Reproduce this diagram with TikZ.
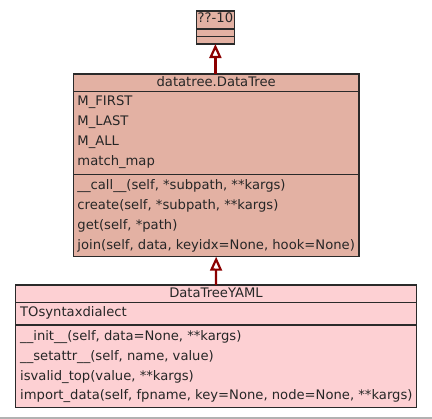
\documentclass[tikz,border=0pt]{standalone}
\usepackage{fontspec}
\setmainfont{DejaVu Sans}
\usetikzlibrary{arrows.meta}
\definecolor{boxA}{HTML}{E3B1A3}
\definecolor{boxB}{HTML}{FDD0D3}
\definecolor{edge}{HTML}{8B0000}
\definecolor{frame}{HTML}{2A2A2A}
\tikzset{
  umlbox/.style={draw=frame, line width=1.2bp, inner sep=0pt, outer sep=0pt},
  txt/.style={anchor=base west, inner sep=0pt, font=\fontsize{13.2}{15}\selectfont, text=black!85},
  ttl/.style={anchor=base, inner sep=0pt, font=\fontsize{13.2}{15}\selectfont, text=black!85},
  divider/.style={draw=frame, line width=1.2bp},
  inherit/.style={draw=edge, line width=2.2bp, -{Triangle[open, width=12bp, length=14bp, line width=2.2bp]}}
}
\begin{document}
\begin{tikzpicture}[x=1bp, y=-1bp]
\useasboundingbox (0,0) rectangle (432,419);
\fill[black!30] (0,417) rectangle (432,419);
% ??-10
\node[umlbox, fill=boxA, minimum width=38.3bp, minimum height=33bp] (t) at (215.4,27.5) {};
\node[ttl] (tt) at (215.4,22.7) {??-10};
\draw[divider] (196.25,29) -- (234.55,29);
\draw[divider] (196.25,36.7) -- (234.55,36.7);
% DataTree
\node[umlbox, fill=boxA, minimum width=285.7bp, minimum height=182.7bp] (dt) at (216.15,165.35) {};
\node[ttl] (dtt) at (216.15,86) {datatree.DataTree};
\draw[divider] (73.3,91.7) -- (359,91.7);
\draw[divider] (73.3,174.3) -- (359,174.3);
\node[txt] (a1) at (77.3,105.7) {M\_FIRST};
\node[txt] (a2) at (77.3,125.7) {M\_LAST};
\node[txt] (a3) at (77.3,145.7) {M\_ALL};
\node[txt] (a4) at (77.3,165.7) {match\_map};
\node[txt] (m1) at (77.3,189.3) {\_\_call\_\_(self, *subpath, **kargs)};
\node[txt] (m2) at (77.3,209.3) {create(self, *subpath, **kargs)};
\node[txt] (m3) at (77.3,229.3) {get(self, *path)};
\node[txt] (m4) at (77.3,249.1) {join(self, data, keyidx=None, hook=None)};
% DataTreeYAML
\node[umlbox, fill=boxB, minimum width=400.6bp, minimum height=122.3bp] (y) at (216,346.15) {};
\node[ttl] (yt) at (216,297.3) {DataTreeYAML};
\draw[divider] (15.7,302.3) -- (416.3,302.3);
\draw[divider] (15.7,325) -- (416.3,325);
\node[txt] (b1) at (20,316.7) {TOsyntaxdialect};
\node[txt] (c1) at (20,340) {\_\_init\_\_(self, data=None, **kargs)};
\node[txt] (c2) at (20,360) {\_\_setattr\_\_(self, name, value)};
\node[txt] (c3) at (20,380) {isvalid\_top(value, **kargs)};
\node[txt] (c4) at (20,399.7) {import\_data(self, fpname, key=None, node=None, **kargs)};
% inheritance
\draw[inherit] (t.south |- dt.north) -- (t.south);
\draw[inherit] (y.north) -- (dt.south);
\end{tikzpicture}
\end{document}
